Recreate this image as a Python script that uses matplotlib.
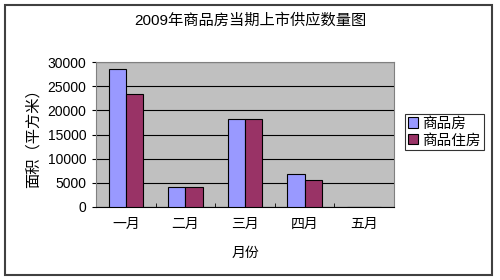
import matplotlib.pyplot as plt
import numpy as np
from matplotlib.patches import Rectangle

plt.rcParams['font.family'] = ['Liberation Sans', 'Noto Sans CJK SC', 'DejaVu Sans']

# data
months = ['一月', '二月', '三月', '四月', '五月']
commercial = [28600, 4100, 18300, 6900, 0]
residential = [23400, 4100, 18300, 5500, 0]
series_names = ['商品房', '商品住房']

fig = plt.figure(figsize=(5, 2.8), dpi=100)
ax = fig.add_axes([96 / 500, 1 - 207 / 280, 298 / 500, 145 / 280])

x = np.arange(len(months))
w = 0.29
ax.bar(x - w / 2, commercial, w, color='#9999FF', edgecolor='black', linewidth=0.8,
       label=series_names[0], zorder=3)
ax.bar(x + w / 2, residential, w, color='#993366', edgecolor='black', linewidth=0.8,
       label=series_names[1], zorder=3)

ax.set_facecolor('#C0C0C0')
ax.set_xlim(-0.5, len(months) - 0.5)
ax.set_ylim(0, 30000)
ax.set_yticks(np.arange(0, 30001, 5000))
ax.yaxis.grid(True, color='black', linewidth=0.8, zorder=1)
ax.set_axisbelow(True)

ax.set_xticks(x)
ax.set_xticklabels(months, fontsize=10)
ax.tick_params(axis='x', length=0, pad=7)
ax.set_xticks(np.arange(0.5, len(months) - 0.5), minor=True)
ax.tick_params(axis='x', which='minor', direction='in', length=3, color='black')
ax.tick_params(axis='y', labelsize=10, length=3, pad=4)

for s in ['top', 'right', 'left']:
    ax.spines[s].set_color('#808080')
ax.spines['bottom'].set_color('black')

ax.set_xlabel('月份', fontsize=10, labelpad=11)
ax.set_ylabel('面积（平方米）', fontsize=11, labelpad=5)

fig.text(0.5, 1 - 20 / 280, '2009年商品房当期上市供应数量图', ha='center', va='center', fontsize=11)

leg = fig.legend(loc='center left', bbox_to_anchor=(405 / 500, 1 - 132 / 280), fontsize=10.5,
                 frameon=True, fancybox=False, edgecolor='black', handlelength=0.7,
                 handleheight=0.7, handletextpad=0.3, borderpad=0.2, labelspacing=0.2,
                 borderaxespad=0)
leg.get_frame().set_linewidth(0.8)

fig.patches.append(Rectangle((5 / 500, 5 / 280), 487 / 500, 270 / 280, transform=fig.transFigure,
                             fill=False, edgecolor='#404040', linewidth=1.5))

fig.savefig('out.png', dpi=100)
